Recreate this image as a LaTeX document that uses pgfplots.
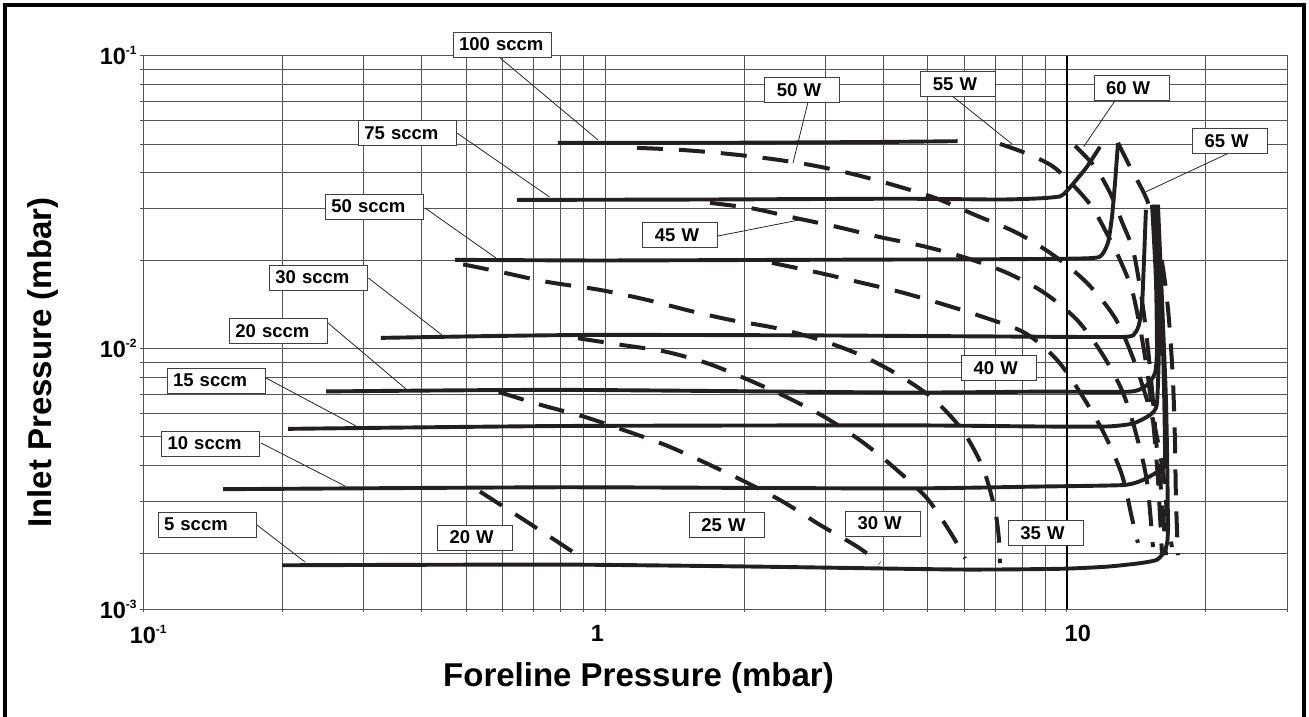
\documentclass[border=0pt]{standalone}
\usepackage{fontspec}
\setmainfont{Liberation Sans}
\usepackage{pgfplots}
\pgfplotsset{compat=1.18}
\definecolor{curve}{RGB}{35,31,32}
\definecolor{gridc}{RGB}{85,85,85}
\newcommand\ticfont{\fontsize{23.5}{26}\selectfont\bfseries}
\newcommand\boxfont{\fontsize{18.5}{20}\selectfont\bfseries}
\newcommand\titfont{\fontsize{33}{36}\selectfont\bfseries}
\newcommand\sups[1]{\raisebox{10pt}{\fontsize{12}{12}\selectfont\bfseries #1}}
\tikzset{
  flow/.style={line width=3.9pt, color=curve, smooth, tension=0.35, line join=round},
  power/.style={line width=4pt, color=curve, dash pattern=on 26pt off 16pt, smooth, tension=0.5},
  sbox/.style={draw=black!75, line width=0.9pt, fill=white, font=\boxfont, minimum height=25pt, inner xsep=6pt, inner ysep=0pt, text width=86pt, align=left},
  wbox/.style={sbox, inner xsep=12pt, text width=51pt},
  lead/.style={line width=0.8pt, black!85}
}
\begin{document}
\begin{tikzpicture}
\begin{axis}[
  scale only axis, width=1143.9pt, height=553.2pt,
  xmode=log, ymode=log,
  xmin=0.1, xmax=30, ymin=0.00129, ymax=0.1,
  xtick={0.1,1},
  xticklabels={\hspace*{10pt}10\sups{-1},1\hspace*{15pt}},
  extra x ticks={10},
  extra x tick labels={\hspace*{22pt}10},
  extra x tick style={grid=major, major grid style={black, line width=1.8pt}},
  minor xtick={0.2,0.3,0.4,0.5,0.6,0.7,0.8,0.9,2,3,4,5,6,7,8,9,20,30},
  ytick={0.00129,0.01,0.1},
  yticklabels={10\sups{-3},10\sups{-2},10\sups{-1}},
  minor ytick={0.002,0.003,0.004,0.005,0.006,0.007,0.008,0.009,0.02,0.03,0.04,0.05,0.06,0.07,0.08,0.09},
  grid=both,
  major grid style={gridc, line width=0.9pt},
  minor grid style={gridc, line width=0.9pt},
  axis line style={gridc, line width=0.9pt},
  tick style={gridc, line width=0.9pt},
  tick align=outside, major tick length=3pt, minor tick length=3pt,
  tick pos=left,
  ticklabel style={font=\ticfont},
  xticklabel style={yshift=-10pt},
]
% ---- power curves (dashed)
\addplot[power] coordinates {(0.536,0.00325) (0.678,0.00256) (0.861,0.00200)};
\addplot[power] coordinates {(0.589,0.00711) (0.727,0.00642) (0.896,0.00587) (1.094,0.00528) (1.349,0.00469) (1.646,0.00408) (2.010,0.00351) (2.429,0.00300) (2.921,0.00250) (3.513,0.00211) (3.940,0.00185)};
\addplot[power] coordinates {(0.874,0.01085) (1.088,0.01029) (1.349,0.00977) (1.663,0.00892) (2.030,0.00786) (2.478,0.00682) (2.995,0.00583) (3.602,0.00481) (4.246,0.00390) (4.982,0.00308) (5.641,0.00231) (6.020,0.00192)};
\addplot[power] coordinates {(0.493,0.0194) (0.607,0.01814) (0.749,0.0169) (0.975,0.01587) (1.233,0.01467) (1.528,0.01346) (1.865,0.01254) (2.334,0.01177) (2.878,0.01079) (3.530,0.00959) (4.246,0.00826) (5.107,0.00679) (5.932,0.00528) (6.584,0.00391) (6.992,0.00281) (7.133,0.00222) (7.167,0.00185)};
\addplot[power] coordinates {(2.299,0.01963) (2.850,0.01828) (3.530,0.0169) (4.353,0.01562) (5.368,0.01421) (6.584,0.01283) (8.120,0.01131) (9.524,0.00915) (10.84,0.00684) (12.09,0.00507) (13.17,0.00370) (13.84,0.00264) (14.26,0.00217)};
\addplot[power] coordinates {(1.688,0.03146) (2.081,0.03013) (2.579,0.02796) (3.179,0.02605) (3.920,0.02408) (4.859,0.02243) (5.961,0.02057) (7.347,0.01828) (8.880,0.01562) (10.52,0.01254) (11.97,0.00952) (13.24,0.00706) (14.19,0.00499) (14.92,0.00350) (15.37,0.00210)};
\addplot[power] coordinates {(1.173,0.04849) (1.454,0.04774) (1.801,0.04644) (2.243,0.04466) (2.779,0.04242) (3.427,0.03953) (4.204,0.03625) (5.183,0.03272) (6.327,0.02862) (7.801,0.02485) (9.335,0.0209) (11.06,0.01677) (12.72,0.01273) (13.91,0.0093) (14.92,0.00668) (15.68,0.00499) (16.24,0.00356) (16.56,0.00254) (16.90,0.0021)};
\addplot[power] coordinates {(7.167,0.0500) (8.120,0.04662) (9.290,0.04209) (10.31,0.03625) (11.34,0.03048) (12.16,0.02504) (13.04,0.02009) (13.84,0.01587) (14.40,0.01186) (14.92,0.00846) (15.37,0.00571) (15.76,0.00356) (16.08,0.00197)};
\addplot[power] coordinates {(10.42,0.04925) (11.51,0.04176) (12.41,0.03403) (13.17,0.02709) (13.91,0.02174) (14.40,0.01625) (14.84,0.01159) (15.30,0.00723) (15.68,0.00451) (16.08,0.00304) (16.40,0.00197)};
\addplot[power] coordinates {(12.91,0.05043) (13.71,0.04176) (14.92,0.03221) (15.68,0.02446) (16.24,0.01785) (16.65,0.01254) (16.98,0.00782) (17.15,0.00488) (17.24,0.00304) (17.41,0.00197)};
% ---- flow curves (solid)
\addplot[flow] coordinates {(0.791,0.0504) (2.0,0.0505) (4.0,0.0508) (5.80,0.0511)};
\addplot[flow] coordinates {(0.645,0.0322) (1.606,0.0323) (4.353,0.0325) (7.17,0.0323) (8.75,0.0326) (9.667,0.0331) (9.96,0.0343) (10.31,0.0365) (11.06,0.0418) (11.80,0.0489)};
\addplot[flow] coordinates {(0.473,0.0201) (0.975,0.0200) (2.644,0.0201) (7.17,0.0202) (10.5,0.0203) (11.80,0.0206) (12.28,0.0230) (12.53,0.0282) (12.72,0.0368) (12.91,0.0504)};
\addplot[flow] coordinates {(0.327,0.01088) (0.592,0.01105) (0.975,0.01114) (2.644,0.0111) (7.17,0.0110) (13.24,0.01096) (14.05,0.01131) (14.33,0.01205) (14.55,0.01388) (14.70,0.0201) (14.84,0.0298)};
\addplot[flow] coordinates {(0.249,0.00714) (0.799,0.00723) (4.353,0.00708) (8.75,0.00713) (13.71,0.00713) (14.92,0.00752) (15.53,0.00826) (15.68,0.0099) (15.60,0.0172) (15.30,0.0310)};
\addplot[flow] coordinates {(0.206,0.00532) (0.799,0.00544) (4.353,0.00547) (8.75,0.00542) (12.22,0.00542) (13.91,0.00555) (15.15,0.00594) (15.68,0.00652) (15.84,0.0116) (15.45,0.0310)};
\addplot[flow] coordinates {(0.149,0.00331) (0.799,0.00336) (4.353,0.00333) (8.75,0.00338) (13.24,0.00342) (14.62,0.00356) (15.92,0.00385) (16.32,0.00417) (16.16,0.0099) (15.60,0.0310)};
\addplot[flow] coordinates {(0.2,0.00182) (0.799,0.00183) (2.166,0.0018) (5.87,0.00176) (9.667,0.00177) (12.22,0.0018) (14.40,0.00185) (15.68,0.0019) (16.32,0.00205) (16.56,0.0024) (16.40,0.00668) (15.76,0.0310)};
\end{axis}
\begin{scope}[shift={(-143.2pt,609pt)}, x=1pt, y=-1pt]
% frame
\draw[line width=3.5pt, black] (5,720) -- (5,5) -- (1304,5) -- (1304,720);
% axis titles
\node[font=\titfont, anchor=base] at (638.5,686.7) {Foreline Pressure (mbar)};
\node[font=\titfont, anchor=base, rotate=90] at (51.4,362.5) {Inlet Pressure (mbar)};
% leader lines
\draw[lead] (499,57) -- (598,140);
\draw[lead] (457,133) -- (549.5,197);
\draw[lead] (425,208) -- (496,258);
\draw[lead] (368.4,278) -- (442,335);
\draw[lead] (328,323) -- (406,389);
\draw[lead] (266,378) -- (356,426);
\draw[lead] (261,443) -- (345,486);
\draw[lead] (257,525) -- (305,562);
\draw[lead] (718,236) -- (799,220);
\draw[lead] (808,102) -- (793,163);
\draw[lead] (953,96.7) -- (1012,144);
\draw[lead] (1115,100.7) -- (1083.7,146.7);
\draw[lead] (1229,153) -- (1146,191.7);
% label boxes
\node[sbox] at (502,44.5) {100 sccm};
\node[sbox] at (407.3,133) {75 sccm};
\node[sbox] at (374.3,206.5) {50 sccm};
\node[sbox] at (318.3,277.5) {30 sccm};
\node[sbox] at (278.3,331) {20 sccm};
\node[sbox] at (216,380.5) {15 sccm};
\node[sbox] at (210.5,443.5) {10 sccm};
\node[sbox] at (207,524.5) {5 sccm};
\node[wbox] at (475,537.5) {20 W};
\node[wbox] at (726.8,524.8) {25 W};
\node[wbox] at (883,523.5) {30 W};
\node[wbox] at (1045.8,533.2) {35 W};
\node[wbox] at (999.2,368.2) {40 W};
\node[wbox] at (680.3,235.2) {45 W};
\node[wbox] at (802.4,89.8) {50 W};
\node[wbox] at (958.3,84.2) {55 W};
\node[wbox] at (1131.5,88.3) {60 W};
\node[wbox] at (1230,141) {65 W};
\pgfresetboundingbox
\path (0,0) rectangle (1309,716);
\end{scope}
\end{tikzpicture}
\end{document}
